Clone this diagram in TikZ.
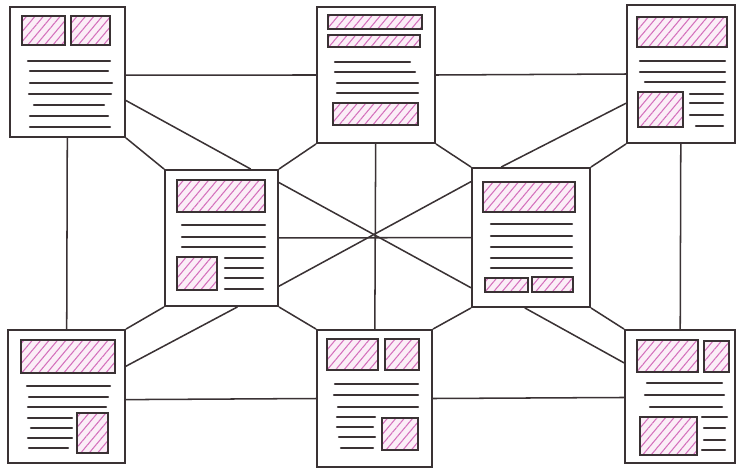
\documentclass[tikz,border=0pt]{standalone}
\usetikzlibrary{patterns.meta}
\definecolor{ink}{RGB}{58,50,52}
\definecolor{hatchpink}{RGB}{212,112,188}
\definecolor{hatchfill}{RGB}{251,238,247}

\begin{document}
\begin{tikzpicture}[x=0.03cm, y=-0.03cm,
		page/.style 2 args={
			rectangle, draw=ink, fill=white, line width=1.6pt,
			inner sep=0pt, minimum width=#1*0.03cm, minimum height=#2*0.03cm
		},
		link/.style={draw=ink, line width=1.3pt},
		hatchbox/.style={
			draw=ink, line width=1.5pt, preaction={fill=hatchfill},
			pattern={Lines[angle=50, distance=5.5pt, line width=0.9pt]},
			pattern color=hatchpink
		},
		txtline/.style={draw=ink, line width=1.9pt, line cap=round},
	]
	\useasboundingbox (0,0) rectangle (737,469);
	
	%pages
	\node[page={115}{130}] (tl) at (67.5,72) {};
	\node[page={118}{136}] (tc) at (376,75) {};
	\node[page={108}{138}] (tr) at (681,74) {};
	\node[page={113}{136}] (ml) at (221.5,238) {};
	\node[page={118}{139}] (mr) at (531,237.5) {};
	\node[page={117}{133}] (bl) at (66.5,396.5) {};
	\node[page={115}{137}] (bc) at (374.5,398.5) {};
	\node[page={110}{133}] (br) at (680,396.5) {};
	
	%outer ring
	\draw[link] (tl.-3) -- (tc.west);
	\draw[link] (tc.east) -- (tr.west);
	\draw[link] (tl) -- (bl);
	\draw[link] (tr) -- (br);
	\draw[link] (bl.-3) -- (bc.west);
	\draw[link] (bc.east) -- (br.181);
	
	%outer pages to middle pages
	\draw[link] (tl.south east) -- (ml.north west);
	\draw[link] (tl.-26) -- (ml.67);
	\draw[link] (tr.south west) -- (mr.north east);
	\draw[link] (tr.208) -- (mr.113);
	\draw[link] (bl.north east) -- (ml.south west);
	\draw[link] (bl.27) -- (ml.-77);
	\draw[link] (br.north west) -- (mr.south east);
	\draw[link] (br.149) -- (mr.-95);
	
	%octagon and star
	\draw[link] (tc.south west) -- (ml.north east);
	\draw[link] (tc.south east) -- (mr.north west);
	\draw[link] (bc.north west) -- (ml.south east);
	\draw[link] (bc.north east) -- (mr.south west);
	\draw[link] (tc) -- (bc);
	\draw[link] (ml) -- (mr);
	\draw[link] (ml.44) -- (mr.220);
	\draw[link] (ml.-40) -- (mr.137);
	
	%top left page
	\draw[hatchbox] (22,16) rectangle (65,45);
	\draw[hatchbox] (71,16) rectangle (110,45);
	\foreach \y/\a/\b in {61/28/110, 71/30/108, 83/30/112, 94/29/111, 105/34/104, 116/30/108, 127/30/110}
		\draw[txtline] (\a,\y) -- (\b,\y);
	
	%top center page
	\draw[hatchbox] (328,15) rectangle (422,29);
	\draw[hatchbox] (328,35) rectangle (420,47);
	\draw[hatchbox] (333,103) rectangle (418,125);
	\foreach \y/\a/\b in {62/335/410, 72/335/415, 83/337/418, 93/337/418}
		\draw[txtline] (\a,\y) -- (\b,\y);
	
	%top right page
	\draw[hatchbox] (637,17) rectangle (727,47);
	\draw[hatchbox] (638,92) rectangle (683,127);
	\foreach \y/\a/\b in {61/640/725, 72/640/725, 82/645/725, 94/690/723, 103/690/723, 115/690/723, 126/696/723}
		\draw[txtline] (\a,\y) -- (\b,\y);
	
	%middle left page
	\draw[hatchbox] (177,180) rectangle (265,212);
	\draw[hatchbox] (177,257) rectangle (217,290);
	\foreach \y/\a/\b in {225/182/265, 237/182/265, 247/182/265, 258/225/263, 268/225/263, 278/225/263, 289/225/263}
		\draw[txtline] (\a,\y) -- (\b,\y);
	
	%middle right page
	\draw[hatchbox] (483,182) rectangle (575,212);
	\draw[hatchbox] (485,278) rectangle (528,292);
	\draw[hatchbox] (532,277) rectangle (573,292);
	\foreach \y in {224,236,247,258,268}
		\draw[txtline] (491,\y) -- (572,\y);
	
	%bottom left page
	\draw[hatchbox] (21,340) rectangle (115,373);
	\draw[hatchbox] (77,413) rectangle (108,453);
	\foreach \y/\a/\b in {386/27/110, 397/29/108, 407/28/106, 418/28/72, 428/31/72, 438/28/72, 448/29/68}
		\draw[txtline] (\a,\y) -- (\b,\y);
	
	%bottom center page
	\draw[hatchbox] (327,339) rectangle (378,370);
	\draw[hatchbox] (385,339) rectangle (419,370);
	\draw[hatchbox] (382,418) rectangle (418,450);
	\foreach \y/\a/\b in {384/335/418, 395/334/418, 407/338/418, 417/337/375, 427/337/373, 437/339/375, 448/341/373}
		\draw[txtline] (\a,\y) -- (\b,\y);
	
	%bottom right page
	\draw[hatchbox] (637,340) rectangle (698,372);
	\draw[hatchbox] (704,341) rectangle (729,372);
	\draw[hatchbox] (640,417) rectangle (697,455);
	\foreach \y/\a/\b in {383/647/722, 395/645/724, 407/650/722, 417/702/727, 428/704/725, 440/704/725, 450/702/725}
		\draw[txtline] (\a,\y) -- (\b,\y);
\end{tikzpicture}
\end{document}
